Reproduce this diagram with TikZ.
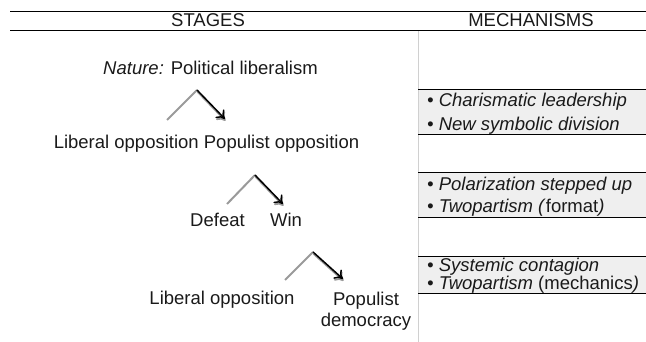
\documentclass[tikz,border=0pt]{standalone}
\usepackage{fontspec}
\setmainfont{Liberation Sans}
\usetikzlibrary{arrows.meta}
\definecolor{boxgray}{HTML}{EFEFEF}
\definecolor{rulegray}{HTML}{D0D0D0}
\definecolor{branchgray}{HTML}{9A9A9A}
\definecolor{inkc}{HTML}{1A1A1A}
\tikzset{
  txt/.style={inner sep=0pt, anchor=base, text=inkc, font=\fontsize{18.5}{22}\selectfont},
  mtxt/.style={inner sep=0pt, anchor=base west, text=inkc, font=\fontsize{18.5}{22}\selectfont},
  rule/.style={line width=1pt, black},
  branchl/.style={line width=2pt, branchgray},
  branchr/.style={line width=1.5pt, black, -{To[length=8pt,width=12pt]}},
  branchs/.style={line width=1.8pt, branchgray, -{To[length=8pt,width=12pt]}},
}
\begin{document}
\begin{tikzpicture}[x=1pt,y=-1pt]
\useasboundingbox (0,0) rectangle (646,342);
% gray boxes
\fill[boxgray] (418,90) rectangle (646,135);
\fill[boxgray] (418,173) rectangle (646,218);
\fill[boxgray] (418,257) rectangle (646,293);
% vertical rule
\draw[rulegray, line width=0.8pt] (418,31) -- (418,342);
% header rules
\draw[rule] (10,11.5) -- (646,11.5);
\draw[rule] (10,31) -- (646,31);
\draw[rule] (418,90) -- (646,90);
\draw[rule] (418,135) -- (646,135);
\draw[rule] (418,173) -- (646,173);
\draw[rule] (418,218) -- (646,218);
\draw[rule] (418,257) -- (646,257);
\draw[rule] (418,293) -- (646,293);
% headers
\node[txt] (hs) at (208,27) {STAGES};
\node[txt] (hm) at (531,27) {MECHANISMS};
% stages
\node[txt] (nat) at (210.5,75) {\textit{Nature:} Political liberalism};
\node[txt] (opp) at (206.5,149) {Liberal opposition Populist opposition};
\node[txt] (def) at (217.5,227) {Defeat};
\node[txt] (win) at (286,227) {Win};
\node[txt] (lib) at (222,305) {Liberal opposition};
\node[txt, align=center, anchor=north] (pop) at (366,291.5) {Populist\\[-0.5pt]democracy};
% branches
\coordinate (a1s) at (167,120); \coordinate (a1a) at (197,90); \coordinate (a1t) at (225,119);
\coordinate (a2s) at (227,204); \coordinate (a2a) at (255,175); \coordinate (a2t) at (283,204);
\coordinate (a3s) at (285,280); \coordinate (a3a) at (313,252); \coordinate (a3t) at (343,279);
\foreach \s/\a/\t in {a1s/a1a/a1t, a2s/a2a/a2t, a3s/a3a/a3t}{
  \draw[branchl] (\s) -- (\a);
  \draw[branchs] ([shift={(0.5,1.8)}]\a) -- ([shift={(0.5,1.8)}]\t);
  \draw[branchr] (\a) -- (\t);
}
% mechanisms
\node[mtxt] (m1) at (427,107) {\textit{• Charismatic leadership}};
\node[mtxt] (m2) at (427,131) {\textit{• New symbolic division}};
\node[mtxt] (m3) at (427,191) {\textit{• Polarization stepped up}};
\node[mtxt] (m4) at (427,213) {\textit{• Twopartism (}format\textit{)}};
\node[mtxt] (m5) at (427,272) {\textit{• Systemic contagion}};
\node[mtxt] (m6) at (427,289) {\textit{• Twopartism} (mechanics\textit{)}};
\end{tikzpicture}
\end{document}
